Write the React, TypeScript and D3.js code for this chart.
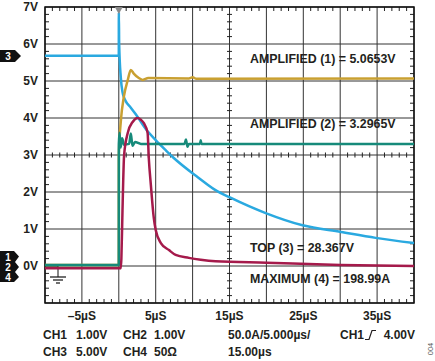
import React from "react";
import * as d3 from "d3";

const W = 435;
const H = 361;

// screen time (µs) and divisions expressed in the 1V/div scale of the graticule
const ch1T = [-10, 0, 0.005, 0.27, 0.68, 1.22, 1.63, 2.03, 2.71, 3.25, 4.0, 9.5, 10, 10.5, 40];
const ch1V = [0.03, 0.03, 3.0, 3.9, 4.57, 5.03, 5.3, 5.2, 5.08, 5.03, 5.08, 5.07, 5.1, 5.06, 5.07];

const ch2T = [-10, 0, 0.005, 0.1, 0.25, 0.45, 0.7, 1.4, 1.63, 1.85, 2.2, 3, 8.9, 9.1, 9.3, 9.5, 11, 11.1, 11.2, 40];
const ch2V = [0.03, 0.03, 3.3, 3.6, 3.2, 3.45, 3.28, 3.3, 3.58, 3.25, 3.35, 3.3, 3.3, 3.42, 3.22, 3.3, 3.3, 3.4, 3.3, 3.3];

const ch3T = [-10, 0, 0.005, 0.05, 0.27, 0.5, 0.72, 0.95, 1.63, 2.3, 3.66, 5.0, 6.4, 7.45, 10.7, 13.1, 15.2, 19.9, 24.9, 30.1, 34.8, 40];
const ch3V = [5.68, 5.68, 6.85, 6.0, 5.1, 4.7, 4.55, 4.45, 4.28, 4.1, 3.7, 3.4, 3.12, 2.92, 2.4, 2.05, 1.84, 1.43, 1.1, 0.92, 0.76, 0.62];

const ch4T = [-10, 0.27, 0.35, 0.5, 0.72, 1.22, 1.9, 2.57, 3.0, 3.4, 3.9, 4.07, 4.34, 4.74, 5.0, 5.7, 6.8, 7.7, 9.5, 11.1, 13.1, 20, 30, 40];
const ch4V = [-0.06, -0.06, 0.2, 1.5, 3.0, 3.6, 3.9, 4.0, 3.95, 3.86, 3.6, 2.9, 2.2, 1.3, 0.97, 0.62, 0.43, 0.3, 0.22, 0.17, 0.13, 0.09, 0.03, 0.0];

const xTickVals = [-5, 5, 15, 25, 35];
const yTickVals = [0, 1, 2, 3, 4, 5, 6, 7];

const notes = ["AMPLIFIED (1) = 5.0653V", "AMPLIFIED (2) = 3.2965V", "TOP (3) = 28.367V", "MAXIMUM (4) = 198.99A"];
const noteLevels = [5.6, 3.85, 0.5, -0.35];

const traces = [
  { t: ch3T, v: ch3V, color: "#2aa9e0" },
  { t: ch1T, v: ch1V, color: "#c9a031" },
  { t: ch2T, v: ch2V, color: "#168a7a" },
  { t: ch4T, v: ch4V, color: "#a51a4b" },
];

const FONT = "'Liberation Sans', Arial, sans-serif";

export default function App() {
  const x = d3.scaleLinear().domain([-10, 40]).range([45, 414]);
  const y = d3.scaleLinear().domain([-1, 7]).range([303, 7]);
  const [x0, x1] = x.range();
  const [y0, y1] = [y(7), y(-1)];

  const line = d3
    .line<[number, number]>()
    .x((d) => x(d[0]))
    .y((d) => y(d[1]))
    .curve(d3.curveMonotoneX);

  const majorX = d3.range(-10, 41, 5);
  const majorY = d3.range(-1, 8, 1);
  const minorX = d3.range(-10, 40.01, 1).filter((t) => Math.abs(t % 5) > 0.01);
  const minorY = d3.range(-1, 7.01, 0.2).filter((v) => Math.abs(v - Math.round(v)) > 0.01);

  const txt = { fontFamily: FONT, fontWeight: 700, fill: "#231f20" } as const;

  return (
    <svg width={W} height={H} style={{ position: "absolute", left: 0, top: 0, background: "#fff" }}>
      {/* graticule */}
      {majorX.map((t) => (
        <line key={"gx" + t} x1={x(t)} x2={x(t)} y1={y0} y2={y1} stroke="#333" strokeWidth={1} />
      ))}
      {majorY.map((v) => (
        <line key={"gy" + v} x1={x0} x2={x1} y1={y(v)} y2={y(v)} stroke="#333" strokeWidth={1} />
      ))}
      {minorX.map((t) => (
        <g key={"mx" + t} stroke="#222" strokeWidth={1}>
          <line x1={x(t)} x2={x(t)} y1={y0} y2={y0 + 4} />
          <line x1={x(t)} x2={x(t)} y1={y1 - 4} y2={y1} />
          <line x1={x(t)} x2={x(t)} y1={y(3) - 2.5} y2={y(3) + 2.5} />
        </g>
      ))}
      {minorY.map((v) => (
        <g key={"my" + v} stroke="#222" strokeWidth={1}>
          <line x1={x0} x2={x0 + 4} y1={y(v)} y2={y(v)} />
          <line x1={x1 - 4} x2={x1} y1={y(v)} y2={y(v)} />
          <line x1={x(15) - 2.5} x2={x(15) + 2.5} y1={y(v)} y2={y(v)} />
        </g>
      ))}
      <rect x={x0} y={y0} width={x1 - x0} height={y1 - y0} fill="none" stroke="#111" strokeWidth={1.5} />

      {/* ground reference */}
      <path d={`M${x0},${y(0)}H${x0 + 13}V${y(0) + 11}`} fill="none" stroke="#111" strokeWidth={1} />
      <g stroke="#111" strokeWidth={1.2}>
        <line x1={x0 + 5} x2={x0 + 21} y1={y(0) + 11} y2={y(0) + 11} />
        <line x1={x0 + 8} x2={x0 + 18} y1={y(0) + 14} y2={y(0) + 14} />
        <line x1={x0 + 11} x2={x0 + 15} y1={y(0) + 17} y2={y(0) + 17} />
      </g>

      {/* traces */}
      {traces.map((tr, i) => (
        <path
          key={"tr" + i}
          d={line(tr.t.map((t, j) => [t, tr.v[j]] as [number, number])) || ""}
          fill="none"
          stroke={tr.color}
          strokeWidth={2.5}
          strokeLinejoin="round"
        />
      ))}

      {/* trigger position marker */}
      <path d={`M${x(0) - 4},${y0}L${x(0) + 4},${y0}L${x(0)},${y0 + 7}Z`} fill="#8a8a8a" />

      {/* y labels */}
      {yTickVals.map((v) => (
        <text key={"yl" + v} x={38} y={y(v)} textAnchor="end" dominantBaseline="central" fontSize={12} {...txt}>
          {v}V
        </text>
      ))}
      {/* x labels */}
      {xTickVals.map((t) => (
        <text key={"xl" + t} x={x(t)} y={316} textAnchor="middle" dominantBaseline="central" fontSize={12} {...txt}>
          {(t < 0 ? "–" + Math.abs(t) : t) + "µS"}
        </text>
      ))}

      {/* channel markers */}
      <path d="M0,50H15L21,56L15,62H0Z" fill="#111" />
      <text x={8} y={56.5} textAnchor="middle" dominantBaseline="central" fontSize={10} fontFamily={FONT} fontWeight={700} fill="#fff">
        3
      </text>
      <path d="M0,251H14L19,256.5L15,262L19,267L15,272L19,277L14,282H0Z" fill="#111" />
      {["1", "2", "4"].map((c, i) => (
        <text key={"cm" + c} x={8} y={257 + i * 10.2} textAnchor="middle" dominantBaseline="central" fontSize={10} fontFamily={FONT} fontWeight={700} fill="#fff">
          {c}
        </text>
      ))}

      {/* measurement readouts */}
      {notes.map((n, i) => (
        <text key={"n" + i} x={250} y={y(noteLevels[i])} dominantBaseline="central" fontSize={12.4} {...txt}>
          {n}
        </text>
      ))}

      {/* settings */}
      <g fontSize={12} {...txt}>
        <text x={43} y={335} dominantBaseline="central">CH1</text>
        <text x={76} y={335} dominantBaseline="central">1.00V</text>
        <text x={123} y={335} dominantBaseline="central">CH2</text>
        <text x={154} y={335} dominantBaseline="central">1.00V</text>
        <text x={43} y={352} dominantBaseline="central">CH3</text>
        <text x={76} y={352} dominantBaseline="central">5.00V</text>
        <text x={123} y={352} dominantBaseline="central">CH4</text>
        <text x={154} y={352} dominantBaseline="central">50Ω</text>
        <text x={228} y={335} dominantBaseline="central">50.0A/5.000µs/</text>
        <text x={228} y={352} dominantBaseline="central">15.00µs</text>
        <text x={340} y={335} dominantBaseline="central">CH1</text>
        <text x={415} y={335} textAnchor="end" dominantBaseline="central">4.00V</text>
      </g>
      <path d="M365,339.5H369L372,330.5H376" fill="none" stroke="#231f20" strokeWidth={1.2} />
      <text
        transform="translate(430,349) rotate(-90)"
        textAnchor="middle"
        dominantBaseline="central"
        fontSize={7.5}
        fontFamily={FONT}
        fill="#555"
      >
        004
      </text>
    </svg>
  );
}
